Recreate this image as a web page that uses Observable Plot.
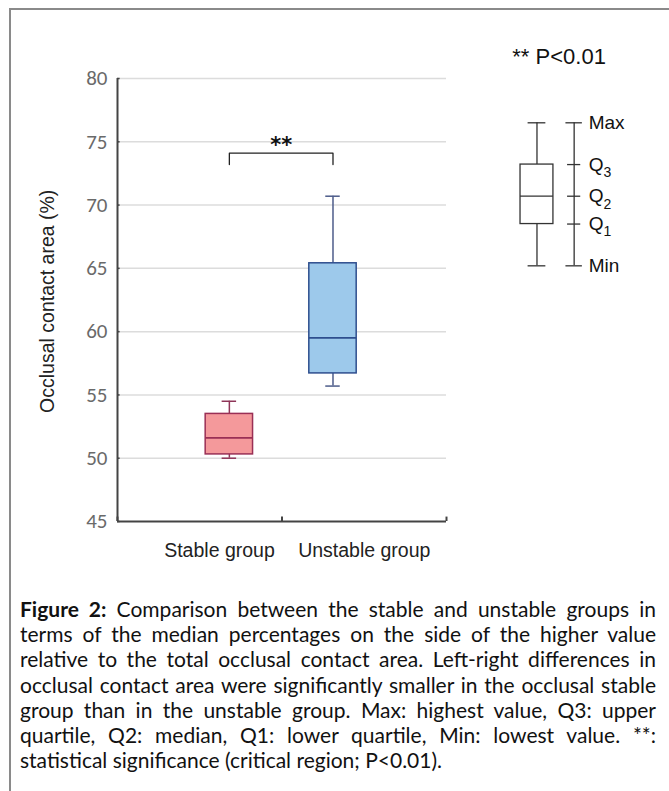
<!DOCTYPE html>
<html>
<head>
<meta charset="utf-8">
<script src="https://cdn.jsdelivr.net/npm/d3@7"></script>
<script src="https://cdn.jsdelivr.net/npm/@observablehq/plot@0.6"></script>
<style>
  html, body { margin: 0; padding: 0; background: #fff; width: 669px; height: 791px; overflow: hidden; }
  #frame { position: absolute; left: 9px; top: 8px; width: 700px; height: 800px;
           border-left: 2px solid #8a8a8a; border-top: 2px solid #8a8a8a; pointer-events: none; z-index: 5; }
  #chart { position: absolute; left: 0; top: 0; }
  #caption { position: absolute; left: 20px; top: 596px; width: 636px;
             font-family: Lato, "Open Sans", sans-serif; font-size: 21px; line-height: 25.2px; color: #111; }
  #caption div { text-align: justify; text-align-last: justify; white-space: nowrap; }
  #caption div.last { text-align-last: left; }
</style>
</head>
<body>
<div id="frame"></div>
<div id="chart"></div>
<div id="caption"></div>
<script>
// ---- data ----
const groups = ["Stable group", "Unstable group"];
const groupPos = [0.34, 0.655];      // position of each box along the category axis (fraction of axis)
const labelPos = [0.31, 0.75];       // position of category labels
const maxVals = [54.5, 70.7];
const q3Vals = [53.5, 65.4];
const medianVals = [51.6, 59.5];
const q1Vals = [50.3, 56.7];
const minVals = [50.0, 55.7];
const yTicks = [45, 50, 55, 60, 65, 70, 75, 80];
const gridTicks = [50, 55, 60, 65, 70, 75, 80];
const axisTickPos = [0, 0.5, 1];
const sigLabel = "**";
const sigBracketTop = 74.1;
const sigBracketEnd = 73.2;
const pLabel = "** P<0.01";
// legend schematic (in y-data units)
const legendKeys = ["Max", "Q3", "Q2", "Q1", "Min"];
const legendVals = [76.5, 73.2, 70.7, 68.5, 65.2];
const legendBoxX = 1.275;
const legendRulerX = 1.388;
const legendTextX = 1.432;
const pLabelX = 1.2;

const captionLines = [
  "<b>Figure 2:</b> Comparison between the stable and unstable groups in",
  "terms of the median percentages on the side of the higher value",
  "relative to the total occlusal contact area. Left-right differences in",
  "occlusal contact area were significantly smaller in the occlusal stable",
  "group than in the unstable group. Max: highest value, Q3: upper",
  "quartile, Q2: median, Q1: lower quartile, Min: lowest value. **:",
  "statistical significance (critical region; P<0.01)."
];

// ---- build ----
const rows = groups.map((g, i) => ({
  g, i, x: groupPos[i], lx: labelPos[i], max: maxVals[i], q3: q3Vals[i],
  med: medianVals[i], q1: q1Vals[i], min: minVals[i]
}));
const fills = ["#F4999B", "#9DC9EB"];
const strokes = ["#9A2F55", "#2E4E8E"];
const whisk = ["#8E3558", "#4D5C8A"];
const boxHalf = 0.072, capHalf = 0.022;
const sans = "Liberation Sans, Arial, sans-serif";

const lg = Object.fromEntries(legendKeys.map((k, i) => [k, legendVals[i]]));
const lBoxHalf = 0.05, lCapHalf = 0.027, rCapHalf = 0.025, rTickHalf = 0.02;
const tickLen = 0.008;

const plot = Plot.plot({
  width: 669, height: 580,
  marginLeft: 117, marginRight: 223, marginTop: 78, marginBottom: 59,
  style: { background: "transparent", fontFamily: sans, overflow: "visible" },
  x: { type: "linear", domain: [0, 1], axis: null },
  y: { type: "linear", domain: [45, 80], axis: null },
  marks: [
    // grid
    Plot.ruleY(gridTicks, { x1: () => 0, x2: () => 1, stroke: "#dcdcdc", strokeWidth: 1.5 }),
    // y axis line + ticks
    Plot.ruleX([0], { x: d => d, y1: () => 45, y2: () => 80, stroke: "#444", strokeWidth: 2 }),
    Plot.ruleY(yTicks, { y: d => d, x1: () => 0, x2: () => tickLen, stroke: "#444", strokeWidth: 1.5 }),
    Plot.text(yTicks, { x: () => 0, y: d => d, text: d => String(d), textAnchor: "end", dx: -10,
      fontSize: 21, fill: "#6a6a6a", fontFamily: "Carlito, Lato, sans-serif" }),
    // x axis line + ticks
    Plot.ruleY([45], { y: d => d, x1: () => 0, x2: () => 1, stroke: "#444", strokeWidth: 2 }),
    Plot.ruleX(axisTickPos, { x: d => d, y1: () => 45, y2: () => 45.35, stroke: "#444", strokeWidth: 2 }),
    // y axis title
    Plot.text(["Occlusal contact area (%)"], { x: () => 0, y: () => 62.4, dx: -70, rotate: -90,
      text: d => d, fontSize: 19.5, fill: "#222" }),
    // x labels
    Plot.text(rows, { x: "lx", y: () => 45, dy: 29, text: "g", fontSize: 19.5, fill: "#222" }),
    // whiskers
    Plot.ruleX(rows, { x: "x", y1: "q3", y2: "max", stroke: d => whisk[d.i], strokeWidth: 1.5 }),
    Plot.ruleX(rows, { x: "x", y1: "min", y2: "q1", stroke: d => whisk[d.i], strokeWidth: 1.5 }),
    Plot.ruleY(rows, { y: "max", x1: d => d.x - capHalf, x2: d => d.x + capHalf, stroke: d => whisk[d.i], strokeWidth: 1.5 }),
    Plot.ruleY(rows, { y: "min", x1: d => d.x - capHalf, x2: d => d.x + capHalf, stroke: d => whisk[d.i], strokeWidth: 1.5 }),
    // boxes
    Plot.rect(rows, { x1: d => d.x - boxHalf, x2: d => d.x + boxHalf, y1: "q1", y2: "q3",
      fill: d => fills[d.i], stroke: d => strokes[d.i], strokeWidth: 1.5 }),
    Plot.ruleY(rows, { y: "med", x1: d => d.x - boxHalf, x2: d => d.x + boxHalf, stroke: d => strokes[d.i], strokeWidth: 1.8 }),
    // significance bracket
    Plot.line([
      { x: rows[0].x, y: sigBracketEnd }, { x: rows[0].x, y: sigBracketTop },
      { x: rows[1].x, y: sigBracketTop }, { x: rows[1].x, y: sigBracketEnd }
    ], { x: "x", y: "y", stroke: "#222", strokeWidth: 1.3 }),
    Plot.text([sigLabel], { x: () => (rows[0].x + rows[1].x) / 2, y: () => sigBracketTop, dy: -8, text: d => d,
      fontSize: 21, fontWeight: "bold", fill: "#111", fontFamily: "DejaVu Sans, sans-serif" }),
    // p-value note
    Plot.text([pLabel], { x: () => pLabelX, y: () => 80, dy: -22, text: d => d, textAnchor: "start",
      fontSize: 22, fill: "#111" }),
    // legend schematic
    Plot.ruleX([legendBoxX], { x: d => d, y1: () => lg.Q3, y2: () => lg.Max, stroke: "#333", strokeWidth: 1.3 }),
    Plot.ruleX([legendBoxX], { x: d => d, y1: () => lg.Min, y2: () => lg.Q1, stroke: "#333", strokeWidth: 1.3 }),
    Plot.ruleY([lg.Max, lg.Min], { y: d => d, x1: () => legendBoxX - lCapHalf, x2: () => legendBoxX + lCapHalf, stroke: "#333", strokeWidth: 1.3 }),
    Plot.rect([lg], { x1: () => legendBoxX - lBoxHalf, x2: () => legendBoxX + lBoxHalf, y1: "Q1", y2: "Q3",
      fill: "white", stroke: "#333", strokeWidth: 1.3 }),
    Plot.ruleY([lg.Q2], { y: d => d, x1: () => legendBoxX - lBoxHalf, x2: () => legendBoxX + lBoxHalf, stroke: "#333", strokeWidth: 1.3 }),
    Plot.ruleX([legendRulerX], { x: d => d, y1: () => lg.Min, y2: () => lg.Max, stroke: "#333", strokeWidth: 1.3 }),
    Plot.ruleY([lg.Max, lg.Min], { y: d => d, x1: () => legendRulerX - rCapHalf, x2: () => legendRulerX + rCapHalf, stroke: "#333", strokeWidth: 1.3 }),
    Plot.ruleY([lg.Q3, lg.Q2, lg.Q1], { y: d => d, x1: () => legendRulerX - rTickHalf, x2: () => legendRulerX + rTickHalf, stroke: "#333", strokeWidth: 1.3 }),
    Plot.text(legendKeys.map((k, i) => ({ k, v: legendVals[i] })), {
      x: () => legendTextX, y: "v", text: d => d.k.startsWith("Q") ? "Q" : d.k, textAnchor: "start",
      fontSize: 19, fill: "#111" })
  ]
});
document.getElementById("chart").appendChild(plot);

// Add subscripts to the Q labels in the legend, in order of legendKeys
const qNums = legendKeys.filter(k => k.startsWith("Q")).map(k => k.slice(1));
let qi = 0;
d3.select(plot).selectAll("text").filter(function () { return d3.select(this).text() === "Q"; })
  .each(function () {
    const n = qNums[qi++];
    d3.select(this).append("tspan").attr("dy", "0.45em").attr("font-size", "14px").text(n);
  });

// caption
const cap = document.getElementById("caption");
captionLines.forEach((ln, i) => {
  const div = document.createElement("div");
  div.innerHTML = ln;
  if (i === captionLines.length - 1) div.className = "last";
  cap.appendChild(div);
});
</script>
</body>
</html>
